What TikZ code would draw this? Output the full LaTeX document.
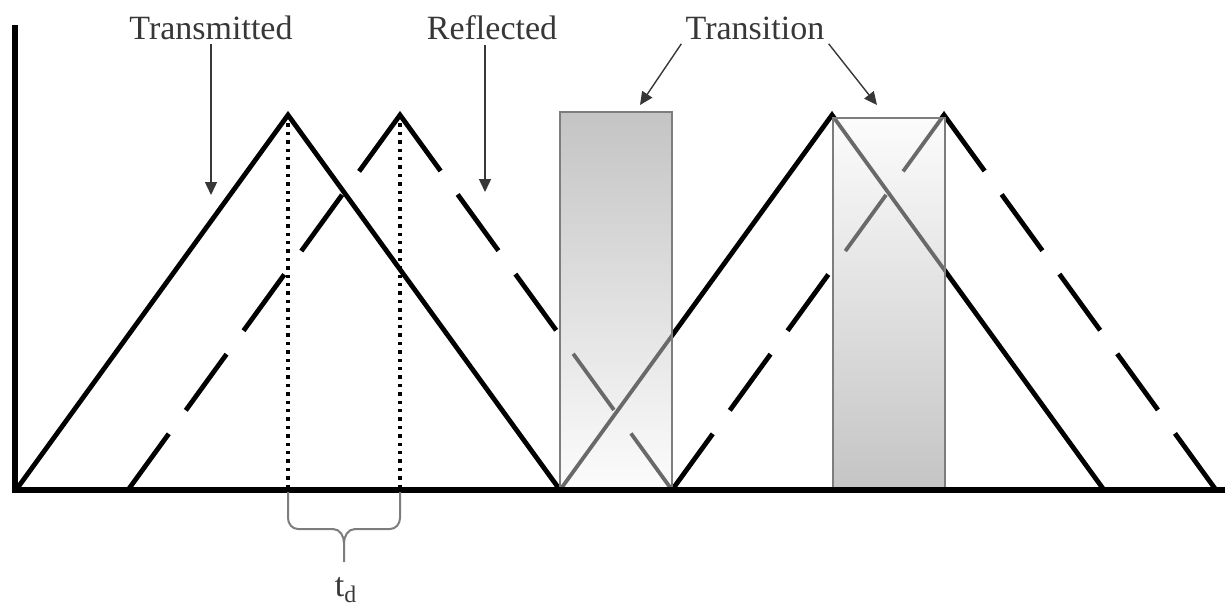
\documentclass[tikz,border=0pt]{standalone}
\usepackage{fontspec}
\setmainfont{Liberation Serif}
\usetikzlibrary{arrows.meta, calc}
\definecolor{cBoxDark}{RGB}{196,196,196}
\definecolor{cBoxLight}{RGB}{252,252,252}
\definecolor{cEdge}{RGB}{125,125,125}
\definecolor{cInside}{RGB}{105,105,105}
\definecolor{cText}{RGB}{55,55,55}
\tikzset{
	axisline/.style ={line width=2.9pt, line join=miter},
	pulse/.style    ={line width=2.4pt, line join=miter},
	echo/.style     ={pulse, dash pattern=on 34.7pt off 14.5pt on 34.7pt off 14.5pt on 34.7pt off 14.5pt on 34.7pt off 14.5pt on 69.4pt off 14.5pt on 34.7pt off 14.5pt on 34.7pt off 14.5pt on 34.7pt off 14.5pt on 34.7pt off 14.5pt},
	inside/.style   ={draw=cInside, line width=1.9pt},
	boxedge/.style  ={draw=cEdge, line width=1pt},
	dotline/.style  ={line width=1.7pt, dash pattern=on 1.7pt off 2.5pt},
	callout/.style  ={-{Triangle[length=6.5pt, width=6pt]}, draw=cText, line width=0.7pt},
	bracket/.style  ={draw=cEdge, line width=1pt},
	lbl/.style      ={text=cText, inner sep=2pt, font=\fontsize{17}{20}\selectfont},
}

\begin{document}
\begin{tikzpicture}[x=0.5pt, y=-0.5pt]
	\useasboundingbox (0,0) rectangle (1225,606);
	\coordinate (o) at (15,490);
	\coordinate (ytop) at (15,25);
	\coordinate (xend) at (1225,490);
	\coordinate (s1a) at (16,490);  \coordinate (s1p) at (288,115); \coordinate (s1b) at (560,490);
	\coordinate (r1a) at (128,490); \coordinate (r1p) at (400,115); \coordinate (r1b) at (672,490);
	\coordinate (s2a) at (560,490); \coordinate (s2p) at (832,115); \coordinate (s2b) at (1104,490);
	\coordinate (r2a) at (672,490); \coordinate (r2p) at (944,115); \coordinate (r2b) at (1216,490);
	\draw[pulse] (s1a) -- (s1p) -- (s1b);
	\draw[pulse] (s2a) -- (s2p) -- (s2b);
	\draw[echo] (r1a) -- (r1p) -- (r1b);
	\draw[echo] (r2a) -- (r2p) -- (r2b);
	\shade[top color=cBoxDark, bottom color=cBoxLight] (560,112) rectangle (672,490);
	\shade[top color=cBoxLight, bottom color=cBoxDark] (833,118) rectangle (945,490);
	\begin{scope}
		\clip (560,112) rectangle (672,490);
		\draw[inside] (s2a) -- (s2p);
		\draw[inside, echo, line width=1.9pt] (r1a) -- (r1p) -- (r1b);
	\end{scope}
	\begin{scope}
		\clip (833,118) rectangle (945,490);
		\draw[inside] (s2p) -- (s2b);
		\draw[inside, echo, line width=1.9pt] (r2a) -- (r2p) -- (r2b);
	\end{scope}
	\draw[boxedge] (560,112) rectangle (672,490);
	\draw[boxedge] (833,118) rectangle (945,490);
	\draw[dotline] (s1p) -- (288,490);
	\draw[dotline] (r1p) -- (400,490);
	\draw[axisline] (ytop) -- (o) -- (xend);
	\draw[bracket] (288,492) -- (288,518) to[out=-90, in=180] (298,529) -- (333,529) to[out=0, in=90] (344,543) -- (344,562);
	\draw[bracket] (400,492) -- (400,518) to[out=-90, in=0] (390,529) -- (355,529) to[out=180, in=90] (344,543);
	\node[lbl] (lblTd) at (346,590) {t\textsubscript{d}};
	\node[lbl] (lblT) at (211,28) {Transmitted};
	\node[lbl] (lblR) at (492,28) {Reflected};
	\node[lbl] (lblTr) at (755,28) {Transition};
	\coordinate (tipT) at (211,195);
	\coordinate (tipR) at (485,192);
	\coordinate (tipB1) at (640,105);
	\coordinate (tipB2) at (877,105);
	\draw[callout] (lblT.south) -- (tipT);
	\draw[callout] (lblR.south -| tipR) -- (tipR);
	\draw[callout] (lblTr.south west) -- (tipB1);
	\draw[callout] (lblTr.south east) -- (tipB2);
\end{tikzpicture}
\end{document}
